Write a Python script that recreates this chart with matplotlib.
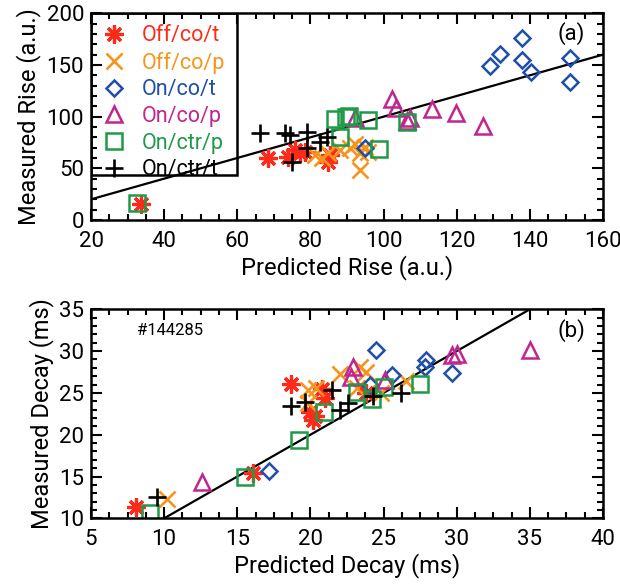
import matplotlib
matplotlib.use("Agg")
import matplotlib.pyplot as plt
from matplotlib.ticker import MultipleLocator
from matplotlib.patches import Rectangle
from matplotlib.transforms import ScaledTranslation

plt.rcParams['font.family'] = ['Roboto', 'DejaVu Sans']

# ---------------- data: panel (a) rise ----------------
rise_off_co_t_x = [33.7, 68.5, 73.9, 75.8, 77.1, 78.5, 84.9, 85.4]
rise_off_co_t_y = [15.5, 59.7, 61.3, 67.8, 64.6, 66.1, 56.4, 62.9]
rise_off_co_p_x = [81.3, 83.1, 84.9, 88.1, 90.8, 92.2, 93.6, 94.9, 95.8, 93.6]
rise_off_co_p_y = [62.9, 59.5, 64.6, 67.8, 69.4, 74.0, 64.6, 71.0, 66.1, 48.4]
rise_on_co_t_x = [94.9, 129.1, 131.7, 137.8, 137.8, 140.2, 151.0, 151.0]
rise_on_co_t_y = [69.4, 149.1, 160.4, 175.9, 154.9, 143.6, 156.5, 133.9]
rise_on_co_p_x = [92.2, 102.4, 103.4, 107.2, 106.5, 113.2, 119.8, 127.1]
rise_on_co_p_y = [98.5, 116.8, 108.1, 98.5, 96.0, 107.2, 103.9, 91.0]
rise_on_ctr_p_x = [32.6, 86.7, 89.7, 90.5, 95.8, 88.1, 98.8, 106.3]
rise_on_ctr_p_y = [16.5, 97.8, 99.4, 101.0, 96.8, 80.6, 68.4, 95.2]
rise_on_ctr_t_x = [66.2, 73.0, 74.5, 79.0, 79.0, 74.9, 82.6, 84.4]
rise_on_ctr_t_y = [83.9, 83.9, 82.0, 85.5, 69.4, 56.4, 75.8, 80.6]

# ---------------- data: panel (b) decay ----------------
dec_off_co_t_x = [8.1, 16.1, 18.7, 20.8, 21.0, 20.0, 20.3, 20.2, 23.8]
dec_off_co_t_y = [11.4, 15.45, 26.1, 25.5, 24.35, 22.75, 22.2, 21.8, 24.95]
dec_off_co_p_x = [10.2, 19.8, 20.4, 22.0, 23.4, 23.8, 23.2, 24.8, 26.5, 19.85]
dec_off_co_p_y = [12.3, 25.35, 25.6, 27.3, 28.1, 27.55, 25.55, 25.0, 26.4, 23.75]
dec_on_co_t_x = [17.2, 24.5, 25.6, 24.1, 27.9, 27.8, 29.65]
dec_on_co_t_y = [15.7, 30.1, 27.1, 25.9, 28.9, 28.1, 27.4]
dec_on_co_p_x = [12.6, 22.9, 22.8, 25.1, 29.65, 30.0, 35.0]
dec_on_co_p_y = [14.3, 28.1, 26.9, 26.5, 29.5, 29.7, 30.1]
dec_on_ctr_p_x = [9.0, 15.5, 19.2, 20.9, 23.2, 24.2, 25.0, 27.5]
dec_on_ctr_p_y = [10.6, 15.0, 19.4, 22.75, 25.15, 24.3, 25.75, 26.1]
dec_on_ctr_t_x = [9.5, 18.7, 19.6, 21.5, 22.0, 22.6, 24.3, 26.2]
dec_on_ctr_t_y = [12.6, 23.4, 23.95, 25.35, 22.95, 23.75, 24.6, 24.95]

labels = ["Off/co/t", "Off/co/p", "On/co/t", "On/co/p", "On/ctr/p", "On/ctr/t"]
colors = ["#ff2a1a", "#f7941d", "#1f4fa8", "#c1258f", "#1f9a48", "#000000"]
markers = [(8, 2, 0), "x", "D", "^", "s", "+"]
sizes = [13, 11, 8, 11, 11, 13]
widths = [2.3, 1.9, 1.8, 1.8, 1.8, 1.9]

rise_sets = [
    (rise_off_co_t_x, rise_off_co_t_y),
    (rise_off_co_p_x, rise_off_co_p_y),
    (rise_on_co_t_x, rise_on_co_t_y),
    (rise_on_co_p_x, rise_on_co_p_y),
    (rise_on_ctr_p_x, rise_on_ctr_p_y),
    (rise_on_ctr_t_x, rise_on_ctr_t_y),
]
decay_sets = [
    (dec_off_co_t_x, dec_off_co_t_y),
    (dec_off_co_p_x, dec_off_co_p_y),
    (dec_on_co_t_x, dec_on_co_t_y),
    (dec_on_co_p_x, dec_on_co_p_y),
    (dec_on_ctr_p_x, dec_on_ctr_p_y),
    (dec_on_ctr_t_x, dec_on_ctr_t_y),
]


def draw_points(ax, sets):
    handles = []
    for (x, y), lab, c, m, s, w in zip(sets, labels, colors, markers, sizes, widths):
        h, = ax.plot(x, y, linestyle="none", marker=m, markersize=s,
                     markerfacecolor="none", markeredgecolor=c,
                     markeredgewidth=w, label=lab)
        handles.append(h)
    return handles


def style_axes(ax, xmaj, xmin, ymaj, ymin):
    ax.xaxis.set_major_locator(MultipleLocator(xmaj))
    ax.xaxis.set_minor_locator(MultipleLocator(xmin))
    ax.yaxis.set_major_locator(MultipleLocator(ymaj))
    ax.yaxis.set_minor_locator(MultipleLocator(ymin))
    ax.tick_params(which="both", direction="in", top=True, right=True,
                   width=1.5, labelsize=16)
    ax.tick_params(which="major", length=8)
    ax.tick_params(axis="x", which="major", pad=8)
    ax.tick_params(axis="y", which="major", pad=5)
    ax.tick_params(which="minor", length=4)
    for sp in ax.spines.values():
        sp.set_linewidth(1.8)


fig = plt.figure(figsize=(6.2, 5.86), dpi=100)

# --------------------------------------------------
# (a) rise
# --------------------------------------------------
ax1 = fig.add_axes([0.1468, 0.6246, 0.8258, 0.3527])
handles = draw_points(ax1, rise_sets)
ax1.axline((0, 0), slope=1, color="black", lw=1.6, zorder=1)
ax1.set_xlim(20, 160)
ax1.set_ylim(0, 200)
style_axes(ax1, 20, 5, 50, 10)
ax1.set_xlabel("Predicted Rise (a.u.)", fontsize=17, labelpad=2)
ax1.set_ylabel("Measured Rise (a.u.)", fontsize=17, labelpad=4)
ax1.text(0.965, 0.90, "(a)", transform=ax1.transAxes, ha="right",
         va="center", fontsize=16)

ax1.add_patch(Rectangle((0, 0.218), 0.2857, 0.782, transform=ax1.transAxes,
                        fill=False, edgecolor="black", lw=1.8, zorder=3))
leg = ax1.legend(handles=handles, loc="upper left", bbox_to_anchor=(0.0, 1.0),
                 frameon=False, fontsize=15.5, handlelength=1.0,
                 handletextpad=0.8, labelspacing=0.26, borderaxespad=0.15)
for t, c in zip(leg.get_texts(), colors):
    t.set_color(c)

# --------------------------------------------------
# (b) decay
# --------------------------------------------------
ax2 = fig.add_axes([0.1468, 0.1155, 0.8258, 0.3567])
draw_points(ax2, decay_sets)
ax2.axline((0, 0), slope=1, color="black", lw=1.6, zorder=1)
ax2.set_xlim(5, 40)
ax2.set_ylim(10, 35)
style_axes(ax2, 5, 1.25, 5, 1)
ax2.set_xlabel("Predicted Decay (ms)", fontsize=17, labelpad=2)
ax2.set_ylabel("Measured Decay (ms)", fontsize=17, labelpad=4)
ax2.text(0.965, 0.90, "(b)", transform=ax2.transAxes, ha="right",
         va="center", fontsize=16)
ax2.text(0.09, 0.90, "#144285", transform=ax2.transAxes, ha="left",
         va="center", fontsize=12)

# keep the right-most x labels inside the figure
fig.canvas.draw()
for ax in (ax1, ax2):
    last = ax.get_xticklabels()[-1]
    last.set_transform(last.get_transform() +
                       ScaledTranslation(-7 / 100, 0, fig.dpi_scale_trans))

fig.savefig("out.png", dpi=100)
